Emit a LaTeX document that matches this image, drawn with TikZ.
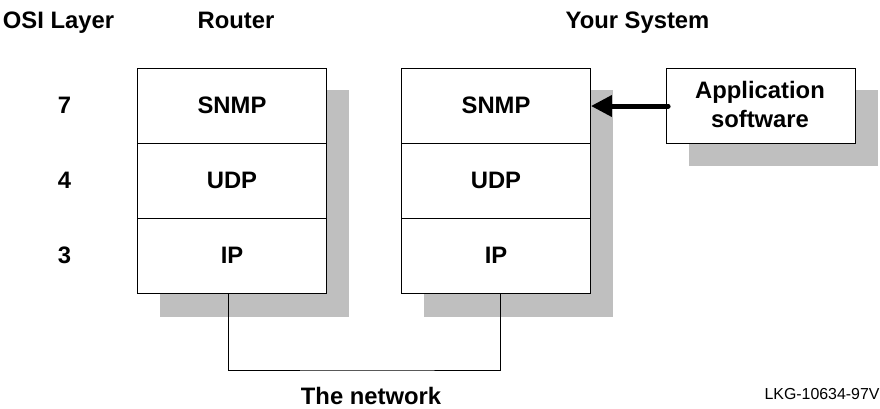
\documentclass[tikz,border=0pt]{standalone}
\usepackage{fontspec}
\setmainfont{Liberation Sans}
\usetikzlibrary{arrows.meta}
\definecolor{shadowgray}{gray}{0.75}
\tikzset{
 cell/.style={draw=black,fill=white,line width=0.8pt,inner sep=0pt},
 lab/.style={font=\fontsize{23.8pt}{29pt}\selectfont\bfseries,align=center,inner sep=0pt,anchor=base},
}
\begin{document}
\begin{tikzpicture}[x=1pt,y=-1pt]
\useasboundingbox (0,0) rectangle (880,408);
\fill[shadowgray] (160,90) rectangle (349,317);
\fill[shadowgray] (424,90) rectangle (613,317);
\fill[shadowgray] (689,90) rectangle (878,166);
\node[cell,minimum width=189pt,minimum height=75pt] (r1) at (232,106) {};
\node[cell,minimum width=189pt,minimum height=75pt] (r2) at (232,181) {};
\node[cell,minimum width=189pt,minimum height=75pt] (r3) at (232,256) {};
\node[cell,minimum width=189pt,minimum height=75pt] (s1) at (496,106) {};
\node[cell,minimum width=189pt,minimum height=75pt] (s2) at (496,181) {};
\node[cell,minimum width=189pt,minimum height=75pt] (s3) at (496,256) {};
\node[cell,minimum width=189pt,minimum height=75pt] (app) at (761,106) {};
\node[lab] (t1) at (232,113.5) {SNMP};
\node[lab] (t2) at (232,188.5) {UDP};
\node[lab] (t3) at (232,263.5) {IP};
\node[lab] (t4) at (496,113.5) {SNMP};
\node[lab] (t5) at (496,188.5) {UDP};
\node[lab] (t6) at (496,263.5) {IP};
\node[lab] (t7) at (760,127.7) {Application\\software};
\node[lab] (h1) at (58.5,28) {OSI Layer};
\node[lab] (h2) at (236,28) {Router};
\node[lab] (h3) at (637.5,28) {Your System};
\node[lab] (n7) at (64.5,113.5) {7};
\node[lab] (n4) at (64.5,188.5) {4};
\node[lab] (n3) at (64.5,263.5) {3};
\node[lab] (net) at (371,404.5) {The network};
\node[font=\fontsize{15.9pt}{18pt}\selectfont,inner sep=0pt,anchor=base] (id) at (822,399) {LKG-10634-97V};
\draw[line width=0.8pt] ([xshift=-3.7pt]r3.south) |- (370,370) -| ([xshift=4pt]s3.south);
\draw[line width=5pt,line cap=round,-{Triangle[length=21pt,width=20.5pt]}] ([xshift=2pt]app.west) -- (s1.east);
\end{tikzpicture}
\end{document}
